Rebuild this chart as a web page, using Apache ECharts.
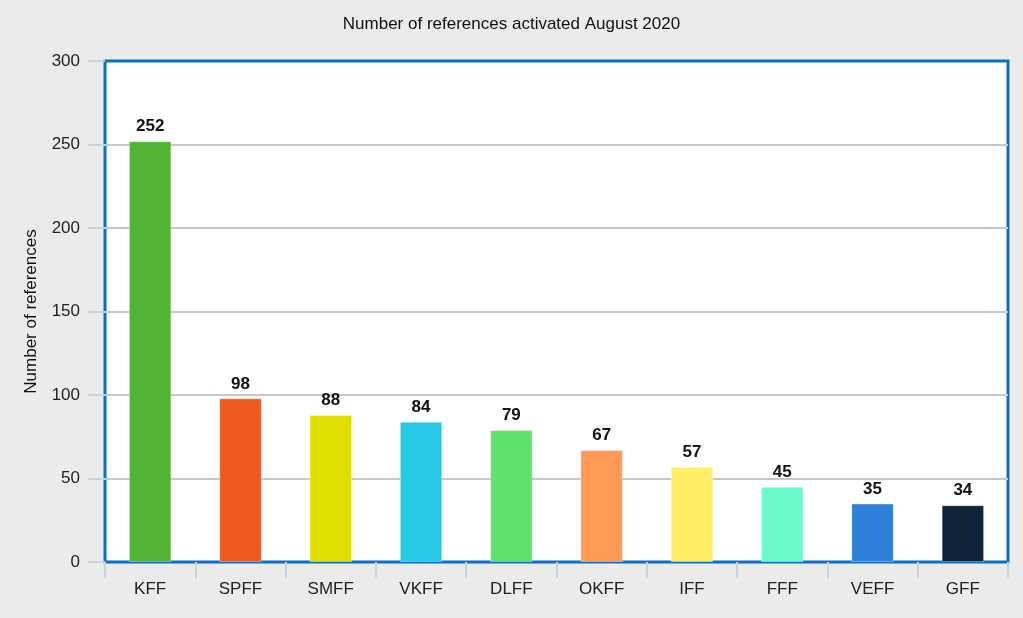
<!DOCTYPE html>
<html>
<head>
<meta charset="utf-8">
<script src="https://cdn.jsdelivr.net/npm/echarts@6/dist/echarts.min.js"></script>
<style>html,body{margin:0;padding:0;background:#ebebeb;}#c{width:1023px;height:618px;}</style>
</head>
<body>
<div id="c"></div>
<script>
const categories = ["KFF","SPFF","SMFF","VKFF","DLFF","OKFF","IFF","FFF","VEFF","GFF"];
const values = [252, 98, 88, 84, 79, 67, 57, 45, 35, 34];
const colors = ["#52b335","#ee5a1e","#dfe000","#26c8e6","#5ee26e","#ff9955","#ffee66","#6bfac9","#2f80d8","#0f2339"];
const titleText = "Number of references activated August 2020";
const yAxisName = "Number of references";

const chart = echarts.init(document.getElementById('c'));
chart.setOption({
  backgroundColor: '#ebebeb',
  animation: false,
  title: {
    text: titleText, left: 'center', top: 11,
    textStyle: {fontFamily: 'Liberation Sans, Arial', fontSize: 17, fontWeight: 'normal', color: '#111'}
  },
  grid: {
    left: 105, right: 15, top: 61, bottom: 56,
    show: true, backgroundColor: '#ffffff', borderColor: '#0a6fc8', borderWidth: 3
  },
  xAxis: {
    type: 'category', data: categories,
    axisLine: {show: false},
    axisTick: {show: true, length: 16, lineStyle: {color: '#c2d4e6', width: 2}},
    axisLabel: {margin: 19, fontSize: 17, color: '#222', fontFamily: 'Liberation Sans, Arial'}
  },
  yAxis: {
    type: 'value', min: 0, max: 300, interval: 50,
    name: yAxisName, nameLocation: 'middle', nameGap: 65,
    nameTextStyle: {fontSize: 17, color: '#111', fontFamily: 'Liberation Sans, Arial'},
    axisLine: {show: false},
    axisTick: {show: true, length: 17, lineStyle: {color: '#c2d4e6', width: 2}},
    axisLabel: {margin: 25, fontSize: 17, color: '#222', fontFamily: 'Liberation Sans, Arial'},
    splitLine: {showMinLine: false, showMaxLine: false, lineStyle: {color: '#c8c8c8', width: 2}}
  },
  series: [{
    type: 'bar', data: values.map((v, i) => ({value: v, itemStyle: {color: colors[i]}})),
    barWidth: '47%',
    itemStyle: {borderColor: 'rgba(255,255,255,0.35)', borderWidth: 1},
    label: {show: true, position: 'top', distance: 6, fontSize: 17, fontWeight: 'bold', color: '#111', fontFamily: 'Liberation Sans, Arial'}
  }]
});
</script>
</body>
</html>
